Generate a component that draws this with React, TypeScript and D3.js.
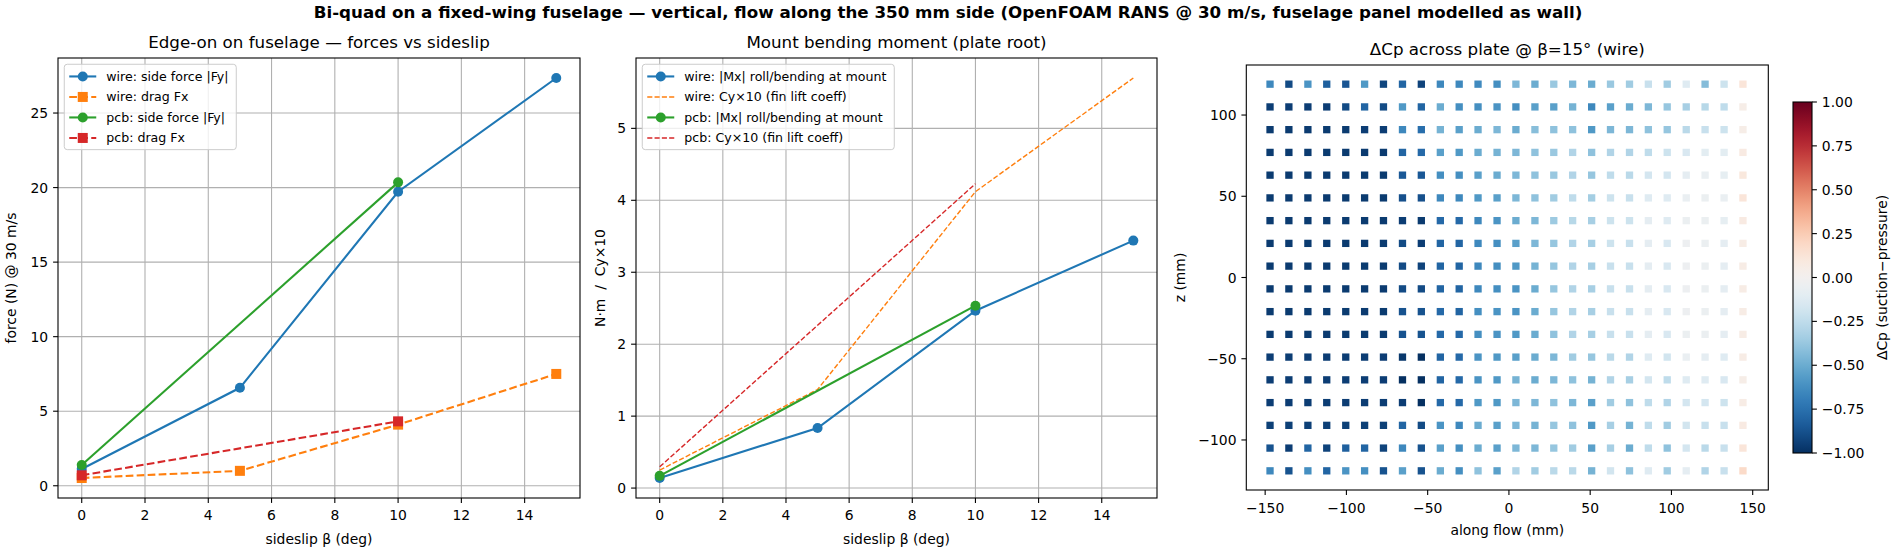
import React from "react";
import * as d3 from "d3";

// ---------------- data ----------------
const betaWire = [0, 5, 10, 15];
const betaPcb = [0, 10];

// left panel: forces (N) @ 30 m/s
const wireSideForce = [1.12, 6.57, 19.72, 27.35];
const wireDrag = [0.52, 1.0, 4.1, 7.5];
const pcbSideForce = [1.39, 20.35];
const pcbDrag = [0.7, 4.32];

// middle panel: moment (N·m) and Cy×10
const wireMx = [0.14, 0.835, 2.465, 3.44];
const wireCy10 = [0.25, 1.37, 4.12, 5.7];
const pcbMx = [0.17, 2.535];
const pcbCy10 = [0.295, 4.23];

const betaTicks = [0, 2, 4, 6, 8, 10, 12, 14];
const forceTicks = [0, 5, 10, 15, 20, 25];
const momentTicks = [0, 1, 2, 3, 4, 5];
const alongTicks = [-150, -100, -50, 0, 50, 100, 150];
const zTicks = [-100, -50, 0, 50, 100];
const cbarTicks = [-1, -0.75, -0.5, -0.25, 0, 0.25, 0.5, 0.75, 1];

// right panel: ΔCp grid (rows top z=119 → bottom z=-119, columns along flow)
const dcpX = [-147, -135.4, -123.7, -112.1, -100.4, -88.8, -77.2, -65.5, -53.9, -42.2, -30.6, -19, -7.3,
  4.3, 16, 27.6, 39.2, 50.9, 62.5, 74.2, 85.8, 97.4, 109.1, 120.7, 132.4, 144];
const dcpZ = [119, 105, 91, 77, 63, 49, 35, 21, 7, -7, -21, -35, -49, -63, -77, -91, -105, -119];
const dcpRows = [
  [-0.65, -0.9, -0.6, -0.82, -0.86, -0.58, -0.92, -0.8, -0.93, -0.65, -0.65, -0.64, -0.62, -0.45, -0.5, -0.37, -0.45, -0.5, -0.37, -0.35, -0.22, -0.35, -0.12, -0.43, -0.2, 0.12],
  [-0.95, -0.95, -0.95, -0.95, -0.9, -0.8, -0.9, -0.58, -0.8, -0.5, -0.62, -0.62, -0.6, -0.62, -0.55, -0.55, -0.47, -0.65, -0.55, -0.5, -0.45, -0.38, -0.33, -0.28, -0.25, 0.05],
  [-0.96, -0.96, -0.96, -0.96, -0.96, -0.95, -0.95, -0.65, -0.76, -0.47, -0.55, -0.5, -0.45, -0.5, -0.42, -0.4, -0.4, -0.58, -0.45, -0.45, -0.4, -0.38, -0.27, -0.22, -0.2, 0.05],
  [-0.96, -0.96, -0.96, -0.96, -0.96, -0.96, -0.96, -0.8, -0.78, -0.55, -0.58, -0.5, -0.47, -0.45, -0.4, -0.37, -0.3, -0.4, -0.3, -0.3, -0.25, -0.2, -0.15, -0.1, -0.1, 0.08],
  [-0.96, -0.96, -0.96, -0.96, -0.96, -0.96, -0.96, -0.85, -0.85, -0.62, -0.62, -0.55, -0.5, -0.45, -0.4, -0.37, -0.3, -0.38, -0.25, -0.27, -0.17, -0.17, -0.09, -0.06, -0.08, 0.1],
  [-0.96, -0.96, -0.96, -0.96, -0.96, -0.96, -0.96, -0.88, -0.88, -0.65, -0.65, -0.58, -0.55, -0.45, -0.4, -0.35, -0.25, -0.34, -0.2, -0.22, -0.12, -0.12, -0.06, -0.05, -0.06, 0.12],
  [-0.96, -0.96, -0.96, -0.96, -0.96, -0.96, -0.96, -0.95, -0.96, -0.78, -0.78, -0.65, -0.6, -0.5, -0.45, -0.36, -0.28, -0.33, -0.2, -0.2, -0.09, -0.12, -0.05, -0.05, -0.08, 0.08],
  [-0.96, -0.96, -0.96, -0.96, -0.96, -0.96, -0.96, -0.9, -0.95, -0.8, -0.8, -0.65, -0.62, -0.55, -0.45, -0.38, -0.3, -0.33, -0.2, -0.22, -0.09, -0.15, -0.04, -0.05, -0.09, 0.06],
  [-0.96, -0.96, -0.96, -0.96, -0.96, -0.96, -0.96, -0.9, -0.93, -0.8, -0.8, -0.65, -0.62, -0.58, -0.47, -0.38, -0.3, -0.33, -0.22, -0.22, -0.09, -0.15, -0.04, -0.05, -0.09, 0.06],
  [-0.96, -0.96, -0.96, -0.96, -0.96, -0.96, -0.96, -0.9, -0.9, -0.8, -0.8, -0.65, -0.62, -0.6, -0.5, -0.38, -0.3, -0.33, -0.22, -0.22, -0.09, -0.15, -0.04, -0.05, -0.09, 0.06],
  [-0.96, -0.96, -0.96, -0.96, -0.96, -0.96, -0.96, -0.87, -0.87, -0.78, -0.8, -0.62, -0.6, -0.6, -0.5, -0.38, -0.3, -0.33, -0.22, -0.22, -0.09, -0.15, -0.04, -0.05, -0.09, 0.06],
  [-0.96, -0.96, -0.96, -0.96, -0.96, -0.96, -0.96, -0.87, -0.87, -0.78, -0.78, -0.62, -0.6, -0.58, -0.5, -0.4, -0.3, -0.33, -0.22, -0.22, -0.09, -0.15, -0.05, -0.05, -0.09, 0.06],
  [-0.95, -0.95, -0.95, -0.95, -0.95, -0.95, -0.95, -0.97, -1.0, -0.8, -0.78, -0.6, -0.58, -0.55, -0.5, -0.45, -0.35, -0.38, -0.27, -0.3, -0.12, -0.18, -0.06, -0.09, -0.12, 0.06],
  [-0.95, -0.95, -0.95, -0.95, -0.95, -0.95, -0.95, -1.0, -1.0, -0.8, -0.78, -0.6, -0.58, -0.47, -0.5, -0.45, -0.4, -0.47, -0.3, -0.33, -0.17, -0.25, -0.12, -0.12, -0.15, 0.05],
  [-0.95, -0.95, -0.95, -0.95, -0.95, -0.95, -0.95, -0.95, -1.0, -0.78, -0.78, -0.58, -0.58, -0.45, -0.45, -0.4, -0.45, -0.55, -0.35, -0.4, -0.25, -0.3, -0.17, -0.17, -0.2, 0.06],
  [-0.94, -0.94, -0.94, -0.94, -0.94, -0.94, -0.94, -0.8, -0.9, -0.6, -0.65, -0.5, -0.55, -0.45, -0.47, -0.38, -0.4, -0.58, -0.33, -0.47, -0.25, -0.35, -0.18, -0.22, -0.22, 0.08],
  [-0.87, -0.95, -0.8, -0.93, -0.82, -0.8, -0.93, -0.65, -0.87, -0.55, -0.62, -0.5, -0.55, -0.45, -0.45, -0.38, -0.35, -0.55, -0.33, -0.5, -0.25, -0.4, -0.17, -0.27, -0.22, 0.12],
  [-0.65, -0.87, -0.62, -0.8, -0.6, -0.62, -0.87, -0.55, -0.87, -0.5, -0.62, -0.4, -0.55, -0.3, -0.35, -0.27, -0.27, -0.47, -0.18, -0.4, -0.12, -0.35, -0.09, -0.3, -0.22, 0.18],
];

// ---------------- styling ----------------
const W = 1897;
const H = 552;
const FONT = "'DejaVu Sans', sans-serif";
const TICK_FS = 13.9;
const LABEL_FS = 13.9;
const TITLE_FS = 16.7;
const LEG_FS = 12.6;
const C_BLUE = "#1f77b4";
const C_ORANGE = "#ff7f0e";
const C_GREEN = "#2ca02c";
const C_RED = "#d62728";
const TICK_LEN = 4.9;

const minus = (s: string) => s.replace(/-/g, "\u2212");
const padDomain = (vals: number[]): [number, number] => {
  const lo = d3.min(vals) as number;
  const hi = d3.max(vals) as number;
  const m = (hi - lo) * 0.05;
  return [lo - m, hi + m];
};
const dcpColor = (v: number) => d3.interpolateRdBu((1 - v) / 2);

type Series = {
  xs: number[];
  ys: number[];
  color: string;
  width: number;
  dash?: string;
  marker?: "o" | "s";
  label: string;
};

type Box = { x0: number; x1: number; y0: number; y1: number };

function Marker({ kind, cx, cy, color }: { kind?: "o" | "s"; cx: number; cy: number; color: string }) {
  if (kind === "o") return <circle cx={cx} cy={cy} r={5} fill={color} />;
  if (kind === "s") return <rect x={cx - 5} y={cy - 5} width={10} height={10} fill={color} />;
  return null;
}

function LinePanel(props: {
  box: Box;
  xDomain: [number, number];
  yDomain: [number, number];
  xTicks: number[];
  yTicks: number[];
  series: Series[];
  title: string;
  xlabel: string;
  ylabel: string;
  ylabelX: number;
  legendW: number;
}) {
  const { box, xDomain, yDomain, xTicks, yTicks, series, title, xlabel, ylabel, ylabelX, legendW } = props;
  const x = d3.scaleLinear().domain(xDomain).range([box.x0, box.x1]);
  const y = d3.scaleLinear().domain(yDomain).range([box.y1, box.y0]);
  const line = d3
    .line<[number, number]>()
    .x((d) => x(d[0]))
    .y((d) => y(d[1]));
  const cx = (box.x0 + box.x1) / 2;
  const cy = (box.y0 + box.y1) / 2;
  const lx = box.x0 + 6.25;
  const ly = box.y0 + 6.25;
  const rowH = 20.5;
  const legH = 12.2 * 2 + rowH * (series.length - 1) - 0.5;
  return (
    <g>
      {xTicks.map((t) => (
        <line key={"gx" + t} x1={x(t)} x2={x(t)} y1={box.y0} y2={box.y1} stroke="#b0b0b0" strokeWidth={1.1} />
      ))}
      {yTicks.map((t) => (
        <line key={"gy" + t} x1={box.x0} x2={box.x1} y1={y(t)} y2={y(t)} stroke="#b0b0b0" strokeWidth={1.1} />
      ))}
      {series.map((s, i) => {
        const pts = s.xs.map((v, j) => [v, s.ys[j]] as [number, number]);
        return (
          <g key={"s" + i}>
            <path d={line(pts) || ""} fill="none" stroke={s.color} strokeWidth={s.width} strokeDasharray={s.dash} />
            {pts.map((p, j) => (
              <Marker key={j} kind={s.marker} cx={x(p[0])} cy={y(p[1])} color={s.color} />
            ))}
          </g>
        );
      })}
      <rect x={box.x0} y={box.y0} width={box.x1 - box.x0} height={box.y1 - box.y0} fill="none" stroke="#000" strokeWidth={1.1} />
      {xTicks.map((t) => (
        <g key={"xt" + t}>
          <line x1={x(t)} x2={x(t)} y1={box.y1} y2={box.y1 + TICK_LEN} stroke="#000" strokeWidth={1.1} />
          <text x={x(t)} y={box.y1 + 22} textAnchor="middle" fontSize={TICK_FS} fontFamily={FONT}>
            {minus(String(t))}
          </text>
        </g>
      ))}
      {yTicks.map((t) => (
        <g key={"yt" + t}>
          <line x1={box.x0 - TICK_LEN} x2={box.x0} y1={y(t)} y2={y(t)} stroke="#000" strokeWidth={1.1} />
          <text x={box.x0 - 9.8} y={y(t)} dy="0.36em" textAnchor="end" fontSize={TICK_FS} fontFamily={FONT}>
            {minus(String(t))}
          </text>
        </g>
      ))}
      <text x={cx} y={544} textAnchor="middle" fontSize={LABEL_FS} fontFamily={FONT}>
        {xlabel}
      </text>
      <text
        transform={`translate(${ylabelX},${cy}) rotate(-90)`}
        textAnchor="middle"
        fontSize={LABEL_FS}
        fontFamily={FONT}
        style={{ whiteSpace: "pre" }}
      >
        {ylabel}
      </text>
      <text x={cx} y={box.y0 - 10} textAnchor="middle" fontSize={TITLE_FS} fontFamily={FONT}>
        {title}
      </text>
      <g>
        <rect x={lx} y={ly} width={legendW} height={legH} rx={3} fill="#fff" fillOpacity={0.8} stroke="#cccccc" strokeWidth={1} />
        {series.map((s, i) => {
          const ry = ly + 12.2 + i * rowH;
          return (
            <g key={"l" + i}>
              <line x1={lx + 5} x2={lx + 32} y1={ry} y2={ry} stroke={s.color} strokeWidth={s.width} strokeDasharray={s.dash} />
              <Marker kind={s.marker} cx={lx + 18.5} cy={ry} color={s.color} />
              <text x={lx + 42} y={ry} dy="0.35em" fontSize={LEG_FS} fontFamily={FONT}>
                {s.label}
              </text>
            </g>
          );
        })}
      </g>
    </g>
  );
}

function HeatPanel() {
  const box: Box = { x0: 1246.3, x1: 1768.3, y0: 65, y1: 490 };
  const x = d3.scaleLinear().domain([-161.6, 159.6]).range([box.x0, box.x1]);
  const y = d3.scaleLinear().domain([-130.8, 130.8]).range([box.y1, box.y0]);
  const sq = 7.3;
  const cbar = { x0: 1793, x1: 1812, y0: 102, y1: 453 };
  const cy = d3.scaleLinear().domain([-1, 1]).range([cbar.y1, cbar.y0]);
  const stops = d3.range(0, 41).map((i) => i / 40);
  const cx = (box.x0 + box.x1) / 2;
  return (
    <g>
      <defs>
        <linearGradient id="rdbu" x1="0" y1="1" x2="0" y2="0">
          {stops.map((t) => (
            <stop key={t} offset={t} stopColor={dcpColor(-1 + 2 * t)} />
          ))}
        </linearGradient>
      </defs>
      {dcpRows.map((row, ri) =>
        row.map((v, ci) => (
          <rect
            key={ri + "-" + ci}
            x={x(dcpX[ci]) - sq / 2}
            y={y(dcpZ[ri]) - sq / 2}
            width={sq}
            height={sq}
            fill={dcpColor(v)}
          />
        ))
      )}
      <rect x={box.x0} y={box.y0} width={box.x1 - box.x0} height={box.y1 - box.y0} fill="none" stroke="#000" strokeWidth={1.1} />
      {alongTicks.map((t) => (
        <g key={"ax" + t}>
          <line x1={x(t)} x2={x(t)} y1={box.y1} y2={box.y1 + TICK_LEN} stroke="#000" strokeWidth={1.1} />
          <text x={x(t)} y={box.y1 + 22.5} textAnchor="middle" fontSize={TICK_FS} fontFamily={FONT}>
            {minus(String(t))}
          </text>
        </g>
      ))}
      {zTicks.map((t) => (
        <g key={"az" + t}>
          <line x1={box.x0 - TICK_LEN} x2={box.x0} y1={y(t)} y2={y(t)} stroke="#000" strokeWidth={1.1} />
          <text x={box.x0 - 9.8} y={y(t)} dy="0.36em" textAnchor="end" fontSize={TICK_FS} fontFamily={FONT}>
            {minus(String(t))}
          </text>
        </g>
      ))}
      <text x={cx} y={535} textAnchor="middle" fontSize={LABEL_FS} fontFamily={FONT}>
        along flow (mm)
      </text>
      <text transform={`translate(1185,${(box.y0 + box.y1) / 2}) rotate(-90)`} textAnchor="middle" fontSize={LABEL_FS} fontFamily={FONT}>
        z (mm)
      </text>
      <text x={cx} y={box.y0 - 10} textAnchor="middle" fontSize={TITLE_FS} fontFamily={FONT}>
        ΔCp across plate @ β=15° (wire)
      </text>
      <rect x={cbar.x0} y={cbar.y0} width={cbar.x1 - cbar.x0} height={cbar.y1 - cbar.y0} fill="url(#rdbu)" stroke="#000" strokeWidth={1.1} />
      {cbarTicks.map((t) => (
        <g key={"cb" + t}>
          <line x1={cbar.x1} x2={cbar.x1 + TICK_LEN} y1={cy(t)} y2={cy(t)} stroke="#000" strokeWidth={1.1} />
          <text x={cbar.x1 + 9.8} y={cy(t)} dy="0.36em" fontSize={TICK_FS} fontFamily={FONT}>
            {minus(d3.format(".2f")(t))}
          </text>
        </g>
      ))}
      <text
        transform={`translate(1887,${(cbar.y0 + cbar.y1) / 2}) rotate(-90)`}
        textAnchor="middle"
        fontSize={LABEL_FS}
        fontFamily={FONT}
      >
        ΔCp (suction−pressure)
      </text>
    </g>
  );
}

export default function App() {
  const forceSeries: Series[] = [
    { xs: betaWire, ys: wireSideForce, color: C_BLUE, width: 2.1, marker: "o", label: "wire: side force |Fy|" },
    { xs: betaWire, ys: wireDrag, color: C_ORANGE, width: 2.1, dash: "7.7 3.3", marker: "s", label: "wire: drag Fx" },
    { xs: betaPcb, ys: pcbSideForce, color: C_GREEN, width: 2.1, marker: "o", label: "pcb: side force |Fy|" },
    { xs: betaPcb, ys: pcbDrag, color: C_RED, width: 2.1, dash: "7.7 3.3", marker: "s", label: "pcb: drag Fx" },
  ];
  const momentSeries: Series[] = [
    { xs: betaWire, ys: wireMx, color: C_BLUE, width: 2.1, marker: "o", label: "wire: |Mx| roll/bending at mount" },
    { xs: betaWire, ys: wireCy10, color: C_ORANGE, width: 1.4, dash: "5.1 2.2", label: "wire: Cy×10 (fin lift coeff)" },
    { xs: betaPcb, ys: pcbMx, color: C_GREEN, width: 2.1, marker: "o", label: "pcb: |Mx| roll/bending at mount" },
    { xs: betaPcb, ys: pcbCy10, color: C_RED, width: 1.4, dash: "5.1 2.2", label: "pcb: Cy×10 (fin lift coeff)" },
  ];
  const betaDomain = padDomain([...betaWire, ...betaPcb]);
  const forceDomain = padDomain([...wireSideForce, ...wireDrag, ...pcbSideForce, ...pcbDrag]);
  const momentDomain = padDomain([...wireMx, ...wireCy10, ...pcbMx, ...pcbCy10]);
  return (
    <svg
      width={W}
      height={H}
      viewBox={`0 0 ${W} ${H}`}
      style={{ position: "absolute", left: 0, top: 0, background: "#fff" }}
    >
      <rect x={0} y={0} width={W} height={H} fill="#fff" />
      <text x={948} y={18} textAnchor="middle" fontSize={16.7} fontWeight="bold" fontFamily={FONT}>
        Bi-quad on a fixed-wing fuselage — vertical, flow along the 350 mm side (OpenFOAM RANS @ 30 m/s, fuselage panel modelled as wall)
      </text>
      <LinePanel
        box={{ x0: 58, x1: 580, y0: 58, y1: 498 }}
        xDomain={betaDomain}
        yDomain={forceDomain}
        xTicks={betaTicks}
        yTicks={forceTicks}
        series={forceSeries}
        title="Edge-on on fuselage — forces vs sideslip"
        xlabel="sideslip β (deg)"
        ylabel="force (N) @ 30 m/s"
        ylabelX={16}
        legendW={172}
      />
      <LinePanel
        box={{ x0: 636, x1: 1157, y0: 58, y1: 498 }}
        xDomain={betaDomain}
        yDomain={momentDomain}
        xTicks={betaTicks}
        yTicks={momentTicks}
        series={momentSeries}
        title="Mount bending moment (plate root)"
        xlabel="sideslip β (deg)"
        ylabel="N·m  /  Cy×10"
        ylabelX={605}
        legendW={252}
      />
      <HeatPanel />
    </svg>
  );
}
